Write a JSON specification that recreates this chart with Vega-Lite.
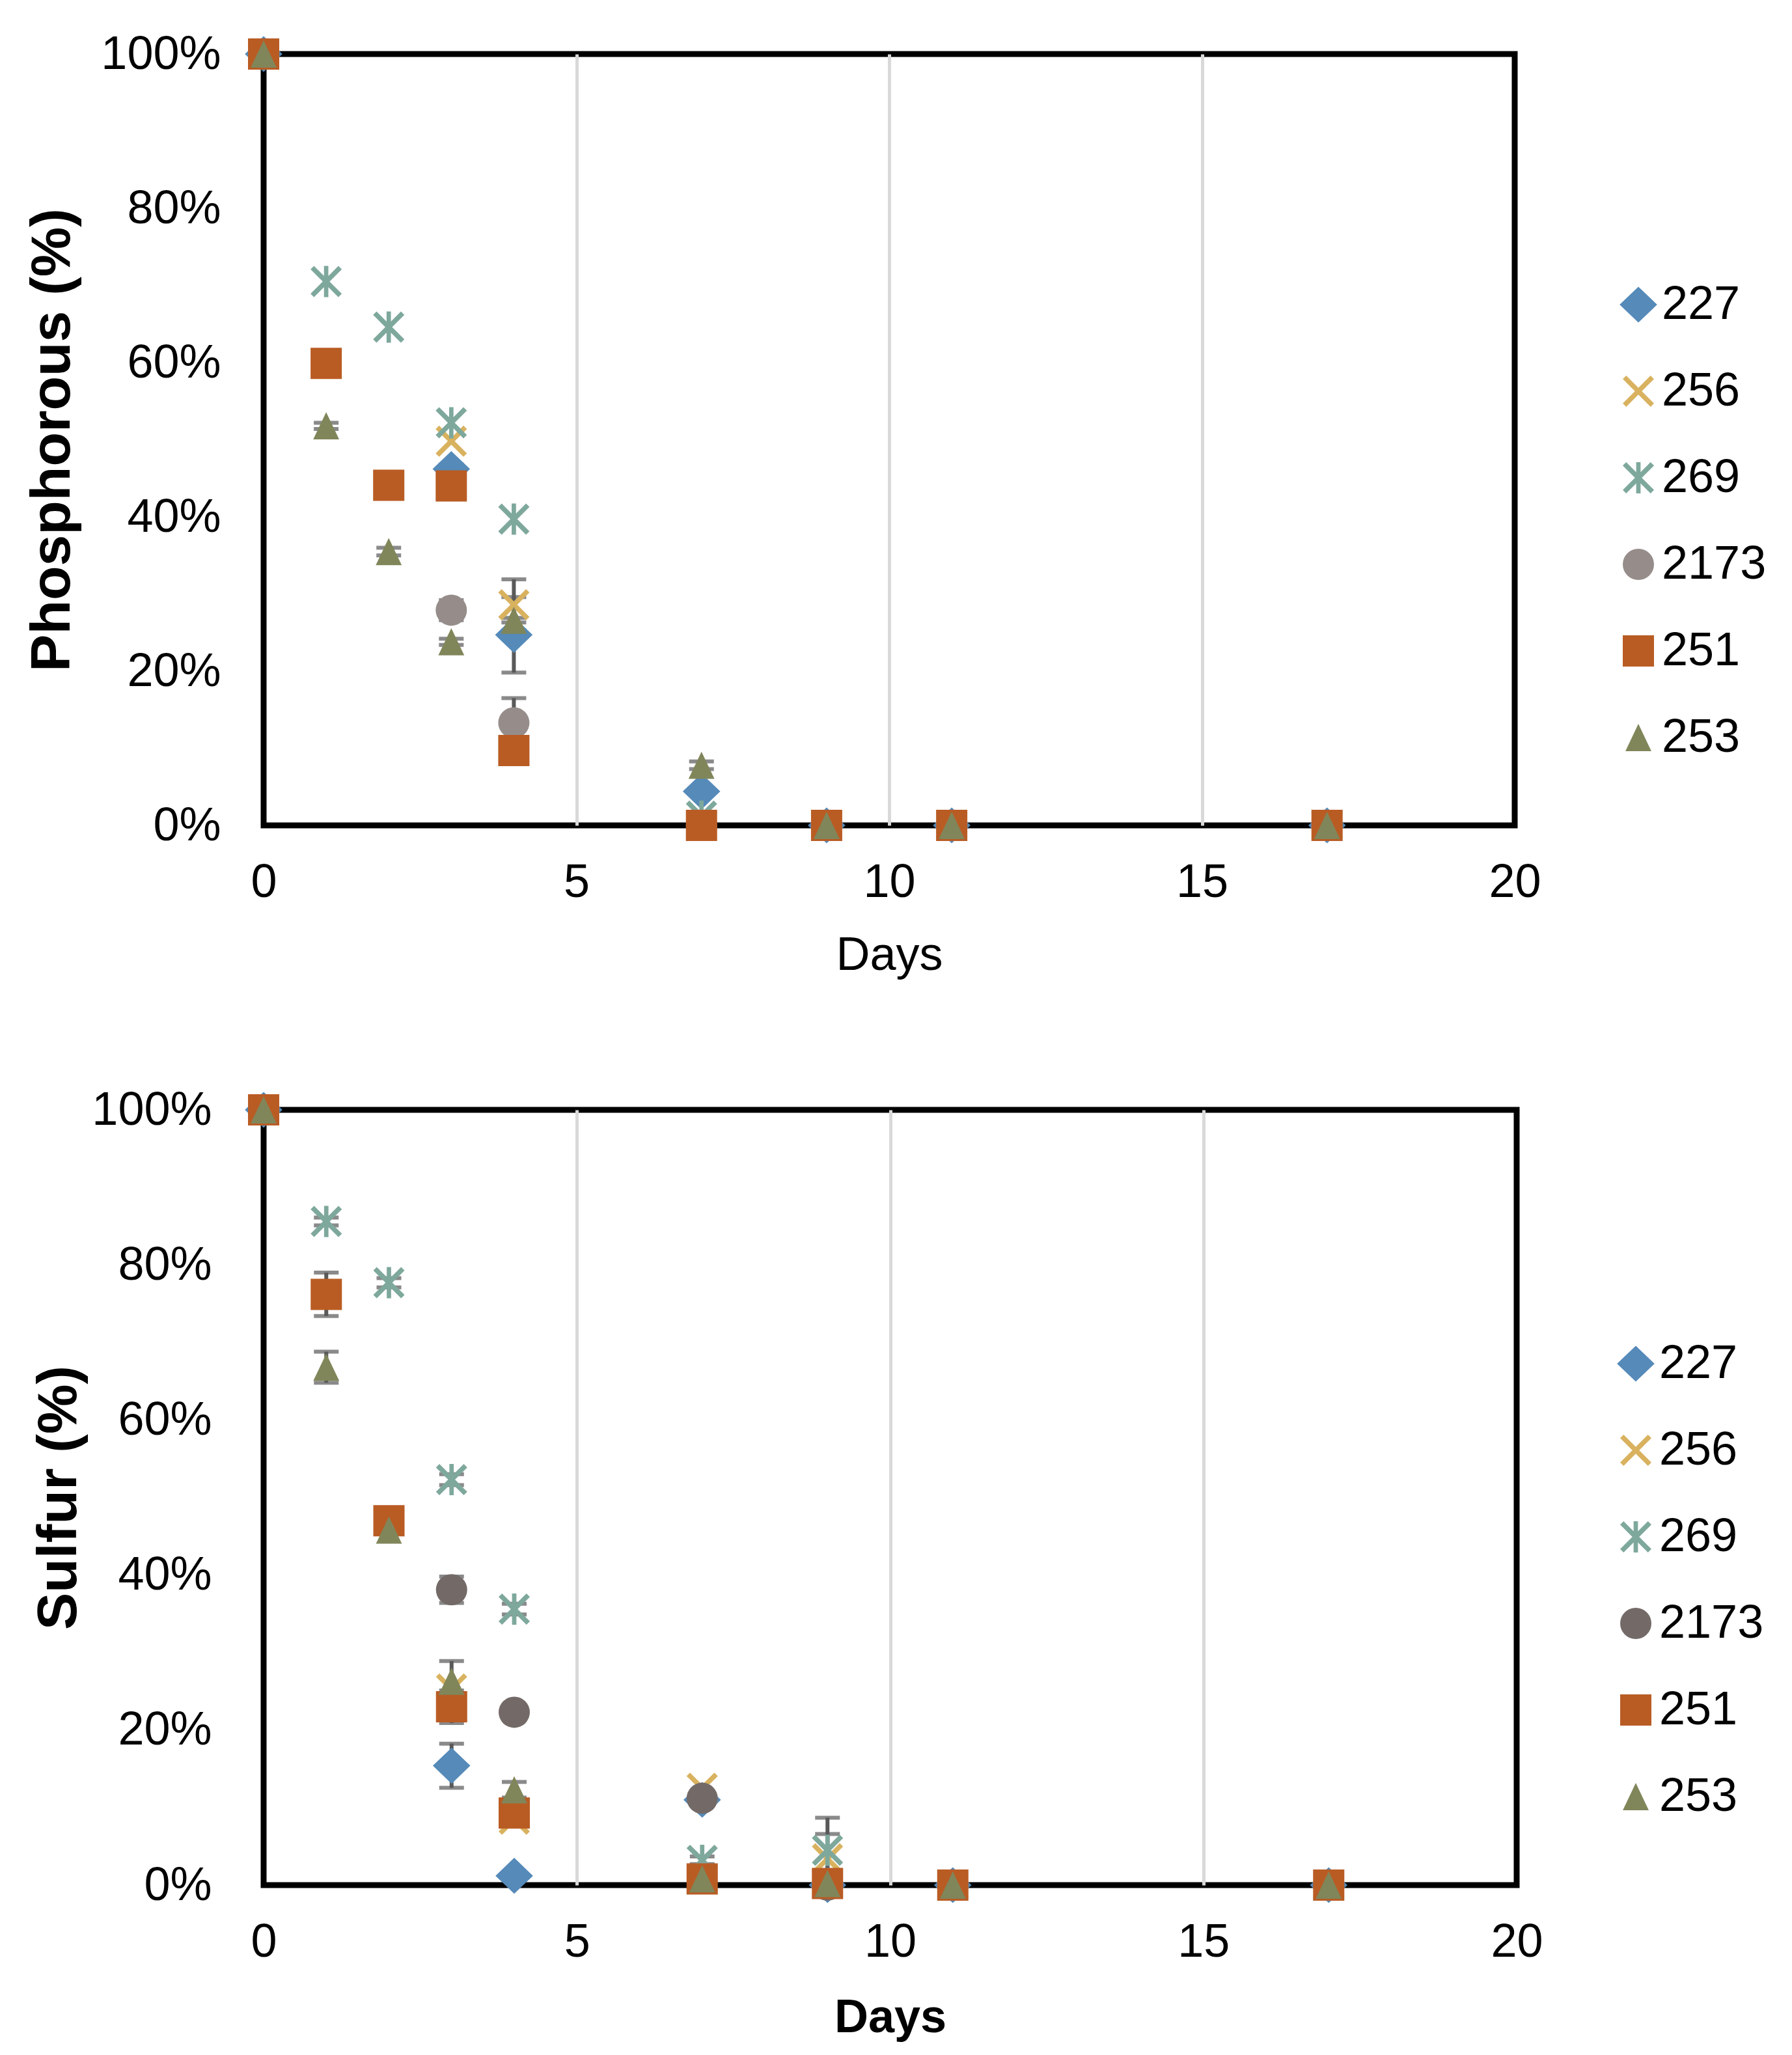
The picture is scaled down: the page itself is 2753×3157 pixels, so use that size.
{
  "$schema": "https://vega.github.io/schema/vega-lite/v6.json",
  "background": "white",
  "padding": {"left": 32, "top": 42, "right": 20, "bottom": 20},
  "config": {
    "font": "Liberation Sans",
    "view": {"stroke": "black", "strokeWidth": 9},
    "axis": {"labelFontSize": 72, "labelLimit": 0, "labelColor": "black", "titleColor": "black", "domain": false, "ticks": false, "tickSize": 0, "grid": false, "labelFont": "Liberation Sans", "titleFont": "Liberation Sans"},
    "legend": {"labelFontSize": 72, "labelLimit": 0, "labelColor": "black", "labelFont": "Liberation Sans", "symbolSize": 2304, "symbolStrokeWidth": 0, "rowPadding": 61, "labelOffset": 0, "padding": 0, "orient": "none"}
  },
  "datasets": {
    "phos": [
      {"strain": "227", "day": 0, "value": 100},
      {"strain": "227", "day": 3, "value": 46.2, "err": 0.6},
      {"strain": "227", "day": 4, "value": 24.7, "err": 4.9},
      {"strain": "227", "day": 7, "value": 4.4},
      {"strain": "227", "day": 9, "value": 0},
      {"strain": "227", "day": 11, "value": 0},
      {"strain": "227", "day": 17, "value": 0},
      {"strain": "256", "day": 0, "value": 100},
      {"strain": "256", "day": 3, "value": 49.8},
      {"strain": "256", "day": 4, "value": 28.6, "err": 3.3},
      {"strain": "256", "day": 7, "value": 0},
      {"strain": "256", "day": 9, "value": 0},
      {"strain": "256", "day": 11, "value": 0},
      {"strain": "256", "day": 17, "value": 0},
      {"strain": "269", "day": 0, "value": 100},
      {"strain": "269", "day": 1, "value": 70.5},
      {"strain": "269", "day": 2, "value": 64.6},
      {"strain": "269", "day": 3, "value": 52.2},
      {"strain": "269", "day": 4, "value": 39.7},
      {"strain": "269", "day": 7, "value": 1.2},
      {"strain": "269", "day": 9, "value": 0},
      {"strain": "269", "day": 11, "value": 0},
      {"strain": "269", "day": 17, "value": 0},
      {"strain": "2173", "day": 0, "value": 100},
      {"strain": "2173", "day": 3, "value": 27.9, "err": 1.3},
      {"strain": "2173", "day": 4, "value": 13.3, "err": 3.2},
      {"strain": "2173", "day": 7, "value": 0},
      {"strain": "2173", "day": 9, "value": 0},
      {"strain": "2173", "day": 11, "value": 0},
      {"strain": "2173", "day": 17, "value": 0},
      {"strain": "251", "day": 0, "value": 100},
      {"strain": "251", "day": 1, "value": 59.9},
      {"strain": "251", "day": 2, "value": 44.1},
      {"strain": "251", "day": 3, "value": 44.0},
      {"strain": "251", "day": 4, "value": 9.7},
      {"strain": "251", "day": 7, "value": 0},
      {"strain": "251", "day": 9, "value": 0},
      {"strain": "251", "day": 11, "value": 0},
      {"strain": "251", "day": 17, "value": 0},
      {"strain": "253", "day": 0, "value": 100},
      {"strain": "253", "day": 1, "value": 51.8, "err": 0.4},
      {"strain": "253", "day": 2, "value": 35.5, "err": 0.5},
      {"strain": "253", "day": 3, "value": 23.8, "err": 0.4},
      {"strain": "253", "day": 4, "value": 26.6, "err": 0.3},
      {"strain": "253", "day": 7, "value": 7.8, "err": 0.5},
      {"strain": "253", "day": 9, "value": 0},
      {"strain": "253", "day": 11, "value": 0},
      {"strain": "253", "day": 17, "value": 0}
    ],
    "sulf": [
      {"strain": "227", "day": 0, "value": 100},
      {"strain": "227", "day": 3, "value": 15.4, "err": 2.85},
      {"strain": "227", "day": 4, "value": 1.2},
      {"strain": "227", "day": 7, "value": 11.0},
      {"strain": "227", "day": 9, "value": 0},
      {"strain": "227", "day": 11, "value": 0},
      {"strain": "227", "day": 17, "value": 0},
      {"strain": "256", "day": 0, "value": 100},
      {"strain": "256", "day": 3, "value": 25.3},
      {"strain": "256", "day": 4, "value": 8.5},
      {"strain": "256", "day": 7, "value": 12.5},
      {"strain": "256", "day": 9, "value": 3.4, "err": 3.2},
      {"strain": "256", "day": 11, "value": 0},
      {"strain": "256", "day": 17, "value": 0},
      {"strain": "269", "day": 0, "value": 100},
      {"strain": "269", "day": 1, "value": 85.6, "err": 0.5},
      {"strain": "269", "day": 2, "value": 77.7, "err": 0.6},
      {"strain": "269", "day": 3, "value": 52.3, "err": 0.7},
      {"strain": "269", "day": 4, "value": 35.6, "err": 0.7},
      {"strain": "269", "day": 7, "value": 3.2, "err": 0.5},
      {"strain": "269", "day": 9, "value": 4.5, "err": 4.2},
      {"strain": "269", "day": 11, "value": 0},
      {"strain": "269", "day": 17, "value": 0},
      {"strain": "2173", "day": 0, "value": 100},
      {"strain": "2173", "day": 3, "value": 38.1, "err": 1.7},
      {"strain": "2173", "day": 4, "value": 22.3},
      {"strain": "2173", "day": 7, "value": 11.2},
      {"strain": "2173", "day": 9, "value": 0},
      {"strain": "2173", "day": 11, "value": 0},
      {"strain": "2173", "day": 17, "value": 0},
      {"strain": "251", "day": 0, "value": 100},
      {"strain": "251", "day": 1, "value": 76.2, "err": 2.8},
      {"strain": "251", "day": 2, "value": 47.0},
      {"strain": "251", "day": 3, "value": 23.0, "err": 2.1},
      {"strain": "251", "day": 4, "value": 9.3},
      {"strain": "251", "day": 7, "value": 0.8},
      {"strain": "251", "day": 9, "value": 0.2},
      {"strain": "251", "day": 11, "value": 0},
      {"strain": "251", "day": 17, "value": 0},
      {"strain": "253", "day": 0, "value": 100},
      {"strain": "253", "day": 1, "value": 66.8, "err": 2.0},
      {"strain": "253", "day": 2, "value": 45.8},
      {"strain": "253", "day": 3, "value": 26.3, "err": 2.6},
      {"strain": "253", "day": 4, "value": 12.3, "err": 1.0},
      {"strain": "253", "day": 7, "value": 0.8},
      {"strain": "253", "day": 9, "value": 0.2},
      {"strain": "253", "day": 11, "value": 0},
      {"strain": "253", "day": 17, "value": 0}
    ]
  },
  "spacing": 156,
  "resolve": {"scale": {"color": "independent", "shape": "independent"}},
  "vconcat": [
    {
      "width": 1922,
      "height": 1185,
      "data": {"name": "phos"},
      "encoding": {
        "x": {"field": "day", "type": "quantitative", "scale": {"domain": [0, 20], "nice": false},
          "axis": {"values": [0, 5, 10, 15, 20], "title": "Days", "titleFontSize": 72, "titleFontWeight": "normal", "labelPadding": 52, "titlePadding": 41, "labelFlush": false,
            "grid": true, "gridColor": "#d9d9d9", "gridWidth": 5,
            "gridOpacity": {"condition": {"test": "datum.value === 0 || datum.value === 20", "value": 0}, "value": 1}}},
        "y": {"field": "value", "type": "quantitative", "scale": {"domain": [0, 100], "nice": false},
          "axis": {"values": [0, 20, 40, 60, 80, 100], "labelExpr": "datum.value + '%'", "title": "Phosphorous (%)", "titleFontSize": 86, "titleFontWeight": "bold", "labelPadding": 66, "titlePadding": 81}}
      },
      "layer": [
        {
          "transform": [{"filter": "datum.err > 0"}],
          "mark": {"type": "errorbar", "ticks": {"size": 38, "thickness": 6, "color": "#595959"}, "rule": {"strokeWidth": 6, "color": "#595959"}},
          "encoding": {"yError": {"field": "err"}}
        },
        {
          "mark": {"type": "point", "filled": true, "size": 2304, "opacity": 1, "strokeWidth": 0},
          "encoding": {
            "color": {"field": "strain", "type": "nominal", "title": null,
              "scale": {"domain": ["227", "256", "269", "2173", "251", "253"], "range": ["#558AB9", "#D9B25F", "#7EA89C", "#968D8B", "#B95C24", "#80865A"]},
              "legend": {"orient": "none", "legendX": 2076, "legendY": 349, "title": null}},
            "shape": {"field": "strain", "type": "nominal", "title": null,
              "scale": {"domain": ["227", "256", "269", "2173", "251", "253"], "range": [
                "M0,-1.15L1.2,0L0,1.15L-1.2,0Z",
                "M-0.78,-1L0,-0.22L0.78,-1L1,-0.78L0.22,0L1,0.78L0.78,1L0,0.22L-0.78,1L-1,0.78L-0.22,0L-1,-0.78Z",
                "M-0.78,-1L0,-0.22L0.78,-1L1,-0.78L0.22,0L1,0.78L0.78,1L0,0.22L-0.78,1L-1,0.78L-0.22,0L-1,-0.78ZM-0.14,-1L0.14,-1L0.14,1L-0.14,1Z",
                "circle",
                "square",
                "M0,-0.87L0.83,0.87L-0.83,0.87Z"]},
              "legend": {"orient": "none", "legendX": 2076, "legendY": 349, "title": null}}
          }
        }
      ]
    },
    {
      "width": 1925,
      "height": 1191,
      "data": {"name": "sulf"},
      "encoding": {
        "x": {"field": "day", "type": "quantitative", "scale": {"domain": [0, 20], "nice": false},
          "axis": {"values": [0, 5, 10, 15, 20], "title": "Days", "titleFontSize": 72, "titleFontWeight": "bold", "labelPadding": 52, "titlePadding": 45, "labelFlush": false,
            "grid": true, "gridColor": "#d9d9d9", "gridWidth": 5,
            "gridOpacity": {"condition": {"test": "datum.value === 0 || datum.value === 20", "value": 0}, "value": 1}}},
        "y": {"field": "value", "type": "quantitative", "scale": {"domain": [0, 100], "nice": false},
          "axis": {"values": [0, 20, 40, 60, 80, 100], "labelExpr": "datum.value + '%'", "title": "Sulfur (%)", "titleFontSize": 86, "titleFontWeight": "bold", "labelPadding": 80, "titlePadding": 71}}
      },
      "layer": [
        {
          "transform": [{"filter": "datum.err > 0"}],
          "mark": {"type": "errorbar", "ticks": {"size": 38, "thickness": 6, "color": "#595959"}, "rule": {"strokeWidth": 6, "color": "#595959"}},
          "encoding": {"yError": {"field": "err"}}
        },
        {
          "mark": {"type": "point", "filled": true, "size": 2304, "opacity": 1, "strokeWidth": 0},
          "encoding": {
            "color": {"field": "strain", "type": "nominal", "title": null,
              "scale": {"domain": ["227", "256", "269", "2173", "251", "253"], "range": ["#558AB9", "#D9B25F", "#7EA89C", "#736A68", "#B95C24", "#80865A"]},
              "legend": {"orient": "none", "legendX": 2072, "legendY": 354, "title": null}},
            "shape": {"field": "strain", "type": "nominal", "title": null,
              "scale": {"domain": ["227", "256", "269", "2173", "251", "253"], "range": [
                "M0,-1.15L1.2,0L0,1.15L-1.2,0Z",
                "M-0.78,-1L0,-0.22L0.78,-1L1,-0.78L0.22,0L1,0.78L0.78,1L0,0.22L-0.78,1L-1,0.78L-0.22,0L-1,-0.78Z",
                "M-0.78,-1L0,-0.22L0.78,-1L1,-0.78L0.22,0L1,0.78L0.78,1L0,0.22L-0.78,1L-1,0.78L-0.22,0L-1,-0.78ZM-0.14,-1L0.14,-1L0.14,1L-0.14,1Z",
                "circle",
                "square",
                "M0,-0.87L0.83,0.87L-0.83,0.87Z"]},
              "legend": {"orient": "none", "legendX": 2072, "legendY": 354, "title": null}}
          }
        }
      ]
    }
  ]
}
